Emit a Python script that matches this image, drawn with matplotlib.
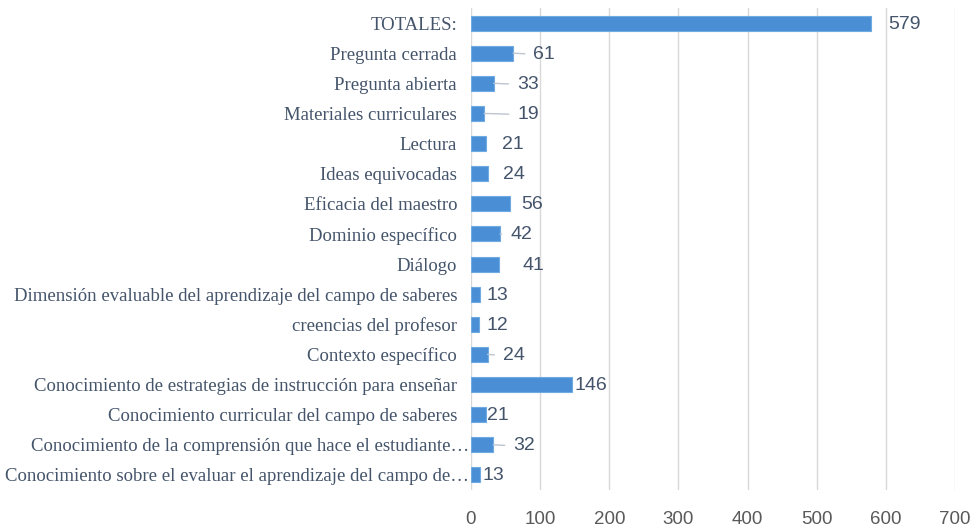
import matplotlib
matplotlib.use("Agg")
import matplotlib.pyplot as plt
from matplotlib.transforms import ScaledTranslation

# categories top to bottom, as in the chart
categories = [
    "TOTALES:",
    "Pregunta cerrada",
    "Pregunta abierta",
    "Materiales curriculares",
    "Lectura",
    "Ideas equivocadas",
    "Eficacia del maestro",
    "Dominio específico",
    "Diálogo",
    "Dimensión evaluable del aprendizaje del campo de saberes",
    "creencias del profesor",
    "Contexto específico",
    "Conocimiento de estrategias de instrucción para enseñar",
    "Conocimiento curricular del campo de saberes",
    "Conocimiento de la comprensión que hace el estudiante…",
    "Conocimiento sobre el evaluar el aprendizaje del campo de…",
]
values = [579, 61, 33, 19, 21, 24, 56, 42, 41, 13, 12, 24, 146, 21, 32, 13]
xticks = [0, 100, 200, 300, 400, 500, 600, 700]

# label placement (pixels right of the bar end) and leader lines
label_dx = [17, 20, 23, 33, 16, 15, 12, 10, 23, 7, 7, 15, 3, 1, 20, 3]
leader = [0, 1, 1, 1, 0, 0, 0, 1, 0, 0, 0, 1, 0, 0, 1, 0]

text_col = "#44546A"
bar_col = "#4A8FD6"

fig = plt.figure(figsize=(9.74, 5.26), dpi=100)
ax = fig.add_axes([471 / 974, 1 - 490 / 526, (955 - 471) / 974, (490 - 8) / 526])

ypos = list(range(len(categories)))
ax.barh(ypos, values, height=0.5, color=bar_col, edgecolor="#6FAAE2", linewidth=0.8, zorder=3)

for y, v, dx, ld in zip(ypos, values, label_dx, leader):
    props = None
    if ld:
        props = dict(arrowstyle="-", color="#BCC5D0", lw=1.0, shrinkA=4, shrinkB=0,
                     relpos=(0, 0.5))
    ax.annotate(str(v), xy=(v, y), xytext=(dx, -1), textcoords="offset pixels",
                ha="left", va="center", fontsize=14, color=text_col,
                family="Liberation Sans", arrowprops=props, zorder=4)

ax.set_yticks(ypos)
ax.set_yticklabels(categories, family="Liberation Serif", fontsize=13.5, color=text_col)
ax.set_ylim(len(categories) - 0.5, -0.5)
ax.set_xlim(0, 700)
ax.set_xticks(xticks)
ax.set_xticklabels([str(t) for t in xticks], family="Liberation Sans", fontsize=13.5,
                   color="#595959")
ax.tick_params(axis="both", length=0)
ax.tick_params(axis="x", pad=15)
ax.tick_params(axis="y", pad=10)

# truncated labels run up to the bar edge, as in the original
for lab in ax.get_yticklabels():
    if lab.get_text().endswith("…"):
        lab.set_transform(lab.get_transform() + ScaledTranslation(0.12, 0, fig.dpi_scale_trans))

ax.grid(axis="x", color="#D9D9D9", lw=1, zorder=0)
for s in ax.spines.values():
    s.set_visible(False)

fig.savefig("out.png", dpi=100)
